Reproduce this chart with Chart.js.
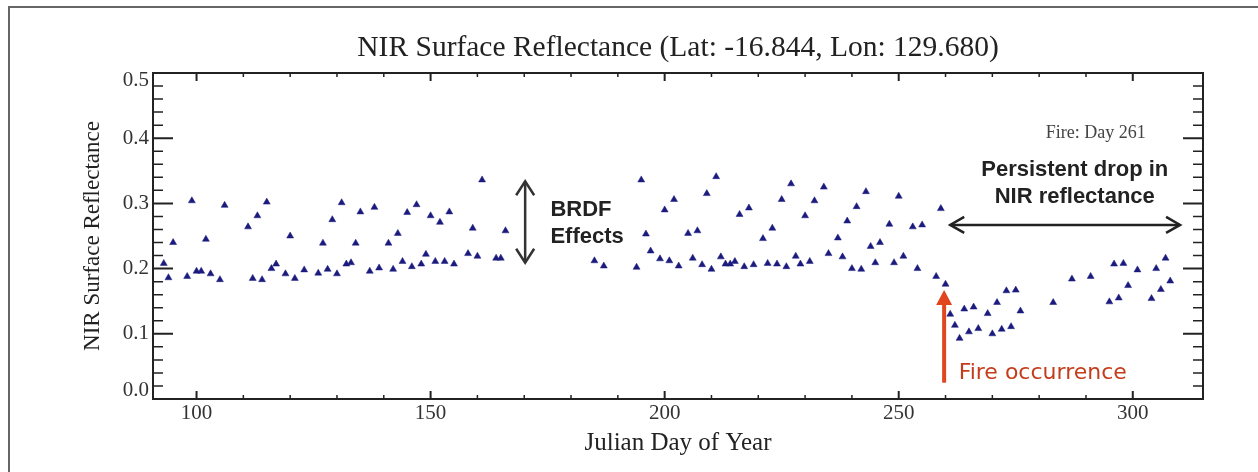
<!DOCTYPE html>
<html><head><meta charset="utf-8">
<script src="https://cdn.jsdelivr.net/npm/chart.js@4.4.1/dist/chart.umd.min.js"></script>
<style>
html,body{margin:0;padding:0;background:#fff;overflow:hidden;}
#wrap{position:relative;width:1258px;height:472px;background:#fff;}
#frame{position:absolute;left:8px;top:6px;width:1270px;height:490px;border-left:2px solid #666;border-top:2px solid #666;}
canvas{position:absolute;left:0;top:0;}
</style></head><body>
<div id="wrap"><div id="frame"></div><canvas id="c" width="1258" height="472"></canvas></div>
<script>
const days = [93,94,95,98,99,100,101,102,103,105,106,111,112,113,114,115,116,117,119,120,121,123,126,127,128,129,130,131,132,133,134,135,137,138,139,141,142,143,144,145,146,147,148,149,150,151,152,153,154,155,158,159,160,161,164,165,166,185,187,194,195,196,197,199,200,201,202,203,205,206,207,208,209,210,211,212,213,214,215,216,217,218,219,221,222,223,224,225,226,227,228,229,230,231,232,234,235,237,238,239,240,241,242,243,244,245,246,248,249,250,251,253,254,255,258,259,260,261,262,263,264,265,266,267,269,270,271,272,273,274,275,276,283,287,291,295,296,297,298,299,301,304,305,306,307,308];
const nir = [0.208,0.186,0.240,0.188,0.304,0.196,0.196,0.245,0.192,0.183,0.297,0.264,0.185,0.281,0.183,0.302,0.200,0.207,0.192,0.250,0.185,0.198,0.193,0.239,0.199,0.275,0.192,0.301,0.207,0.209,0.239,0.287,0.196,0.294,0.201,0.239,0.199,0.254,0.211,0.286,0.203,0.298,0.207,0.222,0.281,0.211,0.271,0.211,0.287,0.207,0.223,0.262,0.219,0.336,0.216,0.216,0.258,0.212,0.204,0.202,0.336,0.253,0.227,0.215,0.290,0.212,0.306,0.204,0.254,0.216,0.258,0.206,0.315,0.199,0.341,0.218,0.207,0.207,0.211,0.283,0.203,0.293,0.206,0.246,0.208,0.262,0.207,0.306,0.203,0.330,0.219,0.207,0.281,0.211,0.304,0.325,0.223,0.247,0.218,0.273,0.200,0.295,0.199,0.318,0.234,0.209,0.240,0.268,0.209,0.311,0.219,0.264,0.200,0.267,0.188,0.292,0.176,0.130,0.113,0.093,0.138,0.103,0.141,0.108,0.131,0.100,0.148,0.107,0.166,0.111,0.167,0.135,0.148,0.184,0.188,0.149,0.207,0.155,0.208,0.174,0.198,0.154,0.200,0.168,0.216,0.181];
const xTickLabels = [100,150,200,250,300];
const yTickLabels = ['0.0','0.1','0.2','0.3','0.4','0.5'];
const titleText = 'NIR Surface Reflectance (Lat: -16.844, Lon: 129.680)';
const xTitle = 'Julian Day of Year';
const yTitle = 'NIR Surface Reflectance';
const fireDay = 261;

const SERIF = '"Liberation Serif", "Times New Roman", serif';
const SANS = '"Liberation Sans", Arial, sans-serif';

function arrowHead(ctx, x, y, dx, dy, len, half) {
  const bx = x - dx*len, by = y - dy*len;
  const px = -dy, py = dx;
  ctx.beginPath();
  ctx.moveTo(bx + px*half, by + py*half);
  ctx.lineTo(x, y);
  ctx.lineTo(bx - px*half, by - py*half);
  ctx.stroke();
}

const deco = {
  id: 'deco',
  afterDraw(chart) {
    const {ctx, chartArea: a, scales: {x, y}} = chart;
    ctx.save();
    ctx.strokeStyle = '#222';
    ctx.lineWidth = 2;
    ctx.strokeRect(a.left, a.top, a.right - a.left, a.bottom - a.top);
    x.ticks.forEach(t => {
      const v = t.value;
      if (Math.abs(v/10 - Math.round(v/10)) > 1e-6) return;
      const major = Math.abs(v/50 - Math.round(v/50)) < 1e-6;
      const px = x.getPixelForValue(v);
      const L = major ? 8 : 4;
      ctx.lineWidth = major ? 2 : 1.5;
      ctx.beginPath();
      ctx.moveTo(px, a.bottom); ctx.lineTo(px, a.bottom - L);
      ctx.moveTo(px, a.top); ctx.lineTo(px, a.top + L);
      ctx.stroke();
    });
    y.ticks.forEach(t => {
      const v = t.value;
      const major = Math.abs(v*10 - Math.round(v*10)) < 1e-6;
      const py = y.getPixelForValue(v);
      const L = major ? 20 : 10;
      ctx.lineWidth = major ? 2 : 1.5;
      ctx.beginPath();
      ctx.moveTo(a.left, py); ctx.lineTo(a.left + L, py);
      ctx.moveTo(a.right, py); ctx.lineTo(a.right - L, py);
      ctx.stroke();
    });
    ctx.fillStyle = '#333';
    ctx.font = '21px ' + SERIF;
    ctx.textAlign = 'center'; ctx.textBaseline = 'middle';
    xTickLabels.forEach(v => ctx.fillText(String(v), x.getPixelForValue(v), a.bottom + 14));
    ctx.textAlign = 'right';
    yTickLabels.forEach(s => {
      let py = y.getPixelForValue(parseFloat(s));
      py = Math.min(Math.max(py, a.top + 7), a.bottom - 9);
      ctx.fillText(s, a.left - 4, py);
    });
    ctx.fillStyle = '#222';
    ctx.textAlign = 'center';
    ctx.font = '29.5px ' + SERIF;
    ctx.fillText(titleText, (a.left + a.right)/2, 48);
    ctx.font = '25px ' + SERIF;
    ctx.fillText(xTitle, (a.left + a.right)/2, 443);
    ctx.font = '23px ' + SERIF;
    ctx.save();
    ctx.translate(93, (a.top + a.bottom)/2);
    ctx.rotate(-Math.PI/2);
    ctx.fillText(yTitle, 0, 0);
    ctx.restore();

    ctx.fillStyle = '#444';
    ctx.font = '18px ' + SERIF;
    ctx.fillText('Fire: Day ' + fireDay, x.getPixelForValue(292.1), y.getPixelForValue(0.408));

    ctx.strokeStyle = '#333'; ctx.lineWidth = 2.5;
    const bx = x.getPixelForValue(170.2), by1 = y.getPixelForValue(0.334), by2 = y.getPixelForValue(0.209);
    ctx.beginPath(); ctx.moveTo(bx, by1); ctx.lineTo(bx, by2); ctx.stroke();
    arrowHead(ctx, bx, by1, 0, -1, 14, 9);
    arrowHead(ctx, bx, by2, 0, 1, 14, 9);
    ctx.fillStyle = '#222';
    ctx.font = 'bold 22px ' + SANS;
    ctx.textAlign = 'left';
    ctx.fillText('BRDF', x.getPixelForValue(175.6), y.getPixelForValue(0.290));
    ctx.fillText('Effects', x.getPixelForValue(175.6), y.getPixelForValue(0.248));

    ctx.textAlign = 'center';
    ctx.fillText('Persistent drop in', x.getPixelForValue(287.6), y.getPixelForValue(0.351));
    ctx.fillText('NIR reflectance', x.getPixelForValue(287.6), y.getPixelForValue(0.310));
    const hx1 = x.getPixelForValue(fireDay), hx2 = x.getPixelForValue(310.1), hy = y.getPixelForValue(0.267);
    ctx.strokeStyle = '#222'; ctx.lineWidth = 2.5;
    ctx.beginPath(); ctx.moveTo(hx1, hy); ctx.lineTo(hx2, hy); ctx.stroke();
    arrowHead(ctx, hx1, hy, -1, 0, 14, 8);
    arrowHead(ctx, hx2, hy, 1, 0, 14, 8);

    const rx = x.getPixelForValue(259.7), ry1 = y.getPixelForValue(0.025), ry2 = y.getPixelForValue(0.167);
    ctx.strokeStyle = '#e0471e'; ctx.fillStyle = '#e0471e';
    ctx.lineWidth = 4;
    ctx.beginPath(); ctx.moveTo(rx, ry1); ctx.lineTo(rx, ry2 + 12); ctx.stroke();
    ctx.beginPath(); ctx.moveTo(rx - 8, ry2 + 15); ctx.lineTo(rx, ry2); ctx.lineTo(rx + 8, ry2 + 15); ctx.closePath(); ctx.fill();
    ctx.fillStyle = '#c43d1b';
    ctx.font = '22px "DejaVu Sans", sans-serif';
    ctx.textAlign = 'left';
    ctx.fillText('Fire occurrence', x.getPixelForValue(262.8), y.getPixelForValue(0.040));
    ctx.restore();
  }
};

new Chart(document.getElementById('c'), {
  type: 'scatter',
  data: {
    datasets: [{
      data: days.map((d, i) => ({x: d, y: nir[i]})),
      pointStyle: 'triangle',
      radius: 4,
      backgroundColor: '#1b1b7e',
      borderColor: '#1b1b7e',
      borderWidth: 0.5
    }]
  },
  options: {
    responsive: false,
    animation: false,
    devicePixelRatio: 1,
    layout: {padding: {top: 73, right: 55, left: 0, bottom: 0}},
    plugins: {legend: {display: false}, title: {display: false}, tooltip: {enabled: false}},
    scales: {
      x: {
        type: 'linear', min: 90.7, max: 315,
        ticks: {display: false, stepSize: 10},
        grid: {display: false},
        border: {display: false},
        afterFit(s) { s.height = 73; }
      },
      y: {
        type: 'linear', min: 0, max: 0.5,
        ticks: {display: false, stepSize: 0.02},
        grid: {display: false},
        border: {display: false},
        afterFit(s) { s.width = 153; }
      }
    }
  },
  plugins: [deco]
});
</script>
</body></html>
